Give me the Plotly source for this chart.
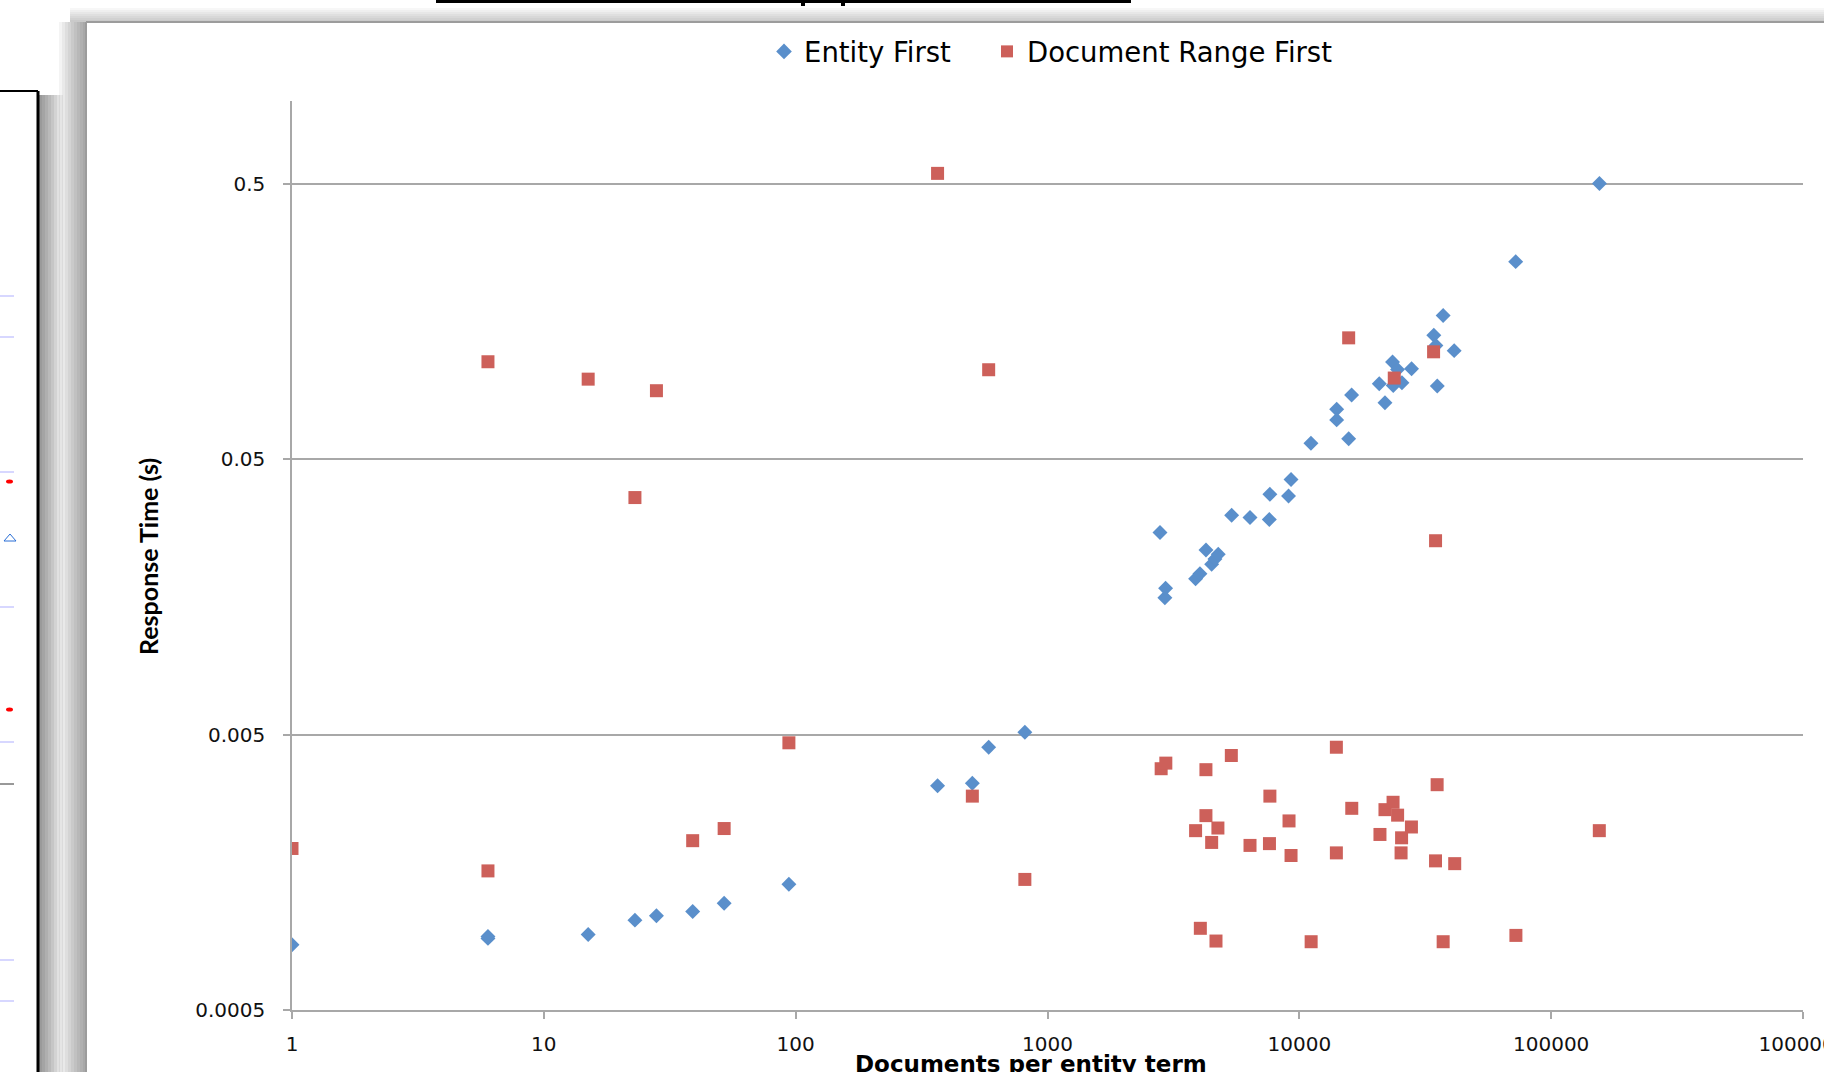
import plotly.graph_objects as go

# ---------------- data ----------------
entity_x = [1, 6, 6, 15, 23, 28, 39, 52, 94, 366, 503, 584, 813,
            2797, 2925, 2944, 3873, 4030, 4259, 4486, 4622, 4764, 5385,
            6370, 7600, 7640, 9060, 9270, 11120, 14070, 14070, 15700, 16130,
            20770, 21880, 23450, 23600, 24540, 25550, 27900, 34200, 34850,
            35300, 37250, 41200, 72300, 155500]
entity_y = [0.000863, 0.00091, 0.000925, 0.00094, 0.00106, 0.0011, 0.00114, 0.00122, 0.00143,
            0.00326, 0.00333, 0.0045, 0.0051,
            0.0271, 0.0157, 0.0170, 0.0184, 0.0192, 0.0234, 0.0208, 0.0217, 0.0226, 0.0313,
            0.0307, 0.0302, 0.0373, 0.0368, 0.0422, 0.0572, 0.0759, 0.0695, 0.0594, 0.0855,
            0.094, 0.0802, 0.1127, 0.0926, 0.106, 0.0948, 0.1066, 0.141, 0.1295,
            0.0922, 0.1664, 0.124, 0.261, 0.502]

docrange_x = [1, 6, 6, 15, 23, 28, 39, 52, 94, 366, 503, 584, 813,
              2827, 2950, 3873, 4045, 4257, 4257, 4486, 4667, 4750, 5370, 6370,
              7610, 7640, 9100, 9270, 11140, 14030, 14030, 15700, 16150, 20900,
              21880, 23560, 23820, 24560, 25350, 25470, 27870, 34130, 34740,
              34750, 35250, 37250, 41400, 72440, 155300]
docrange_y = [0.00193, 0.113, 0.0016, 0.0977, 0.0363, 0.0887, 0.00206, 0.00228, 0.00467,
              0.546, 0.00299, 0.1057, 0.00149,
              0.00376, 0.00394, 0.00224, 0.00099, 0.00373, 0.00254, 0.00203, 0.00089, 0.00229,
              0.0042, 0.00198, 0.00201, 0.00299, 0.00243, 0.00182, 0.000885, 0.0045, 0.00186,
              0.138, 0.0027, 0.00217, 0.00267, 0.00284, 0.0986, 0.00255, 0.00186, 0.00211,
              0.00231, 0.1228, 0.00174, 0.0253, 0.00329, 0.000885, 0.0017, 0.000933, 0.00224]

x_ticks = [1, 10, 100, 1000, 10000, 100000, 1000000]
x_tick_text = ["1", "10", "100", "1000", "10000", "100000", "1000000"]
y_ticks = [0.0005, 0.005, 0.05, 0.5]
y_tick_text = ["0.0005", "0.005", "0.05", "0.5"]

series_names = ["Entity First", "Document Range First"]
x_title = "Documents per entity term"
y_title = "Response Time (s)"

# ---------------- layout geometry ----------------
W_FIG, H_FIG = 1824, 1072
L, R, T, B = 292, 1803, 101, 1010
PW, PH = R - L, B - T


def px(X):
    return (X - L) / PW


def py(Y):
    return (B - Y) / PH


BLUE = "#5A8FCB"
RED = "#CD605A"
GRID = "#A8A8A8"
TICKFONT = dict(family="DejaVu Sans, Verdana, sans-serif", size=20, color="#111111")
LEGFONT = dict(family="DejaVu Sans, sans-serif", size=27.5, color="#000000")

fig = go.Figure()
fig.add_trace(go.Scatter(
    x=entity_x, y=entity_y, mode="markers", name=series_names[0], legend="legend",
    marker=dict(symbol="diamond", size=11.5, color=BLUE, line=dict(width=0)),
))
fig.add_trace(go.Scatter(
    x=docrange_x, y=docrange_y, mode="markers", name=series_names[1], legend="legend2",
    marker=dict(symbol="square", size=13, color=RED, line=dict(width=0)),
))

shapes = []


def line(x0, y0, x1, y1, color, width):
    shapes.append(dict(type="line", xref="paper", yref="paper",
                       x0=px(x0), y0=py(y0), x1=px(x1), y1=py(y1),
                       line=dict(color=color, width=width), layer="above"))


def rect(x0, y0, x1, y1, fill):
    shapes.append(dict(type="rect", xref="paper", yref="paper",
                       x0=px(x0), y0=py(y0), x1=px(x1), y1=py(y1),
                       fillcolor=fill, line=dict(width=0), layer="above"))


# shadow of the chart frame (left and top)
for k in range(3, 28, 3):
    rect(86 - k, 22, 86, H_FIG, "rgba(0,0,0,0.045)")
for k in range(2, 16, 2):
    rect(70, 22 - k, W_FIG, 22, "rgba(0,0,0,0.03)")
# shadow right of the left panel
for k in range(3, 25, 3):
    rect(39, 95, 39 + k, H_FIG, "rgba(0,0,0,0.06)")
# left panel border
line(38, 91, 38, H_FIG, "#000000", 3)
line(0, 91, 38, 91, "#000000", 2)
# chart frame border
line(86, 22, 86, H_FIG, "#9C9C9C", 2)
line(86, 22, W_FIG, 22, "#9C9C9C", 2)
# top: underline of a cut-off heading
line(436, 1.5, 1131, 1.5, "#000000", 3)
line(803, 0, 803, 6, "#000000", 4)
line(843, 0, 843, 6, "#000000", 4)
# left panel small marks
for yy in [296, 337, 472, 607, 742, 960, 1001]:
    line(0, yy, 14, yy, "#AFAFFF", 1)
line(0, 784, 14, 784, "#333333", 1)
for yy in [481.5, 709.5]:
    shapes.append(dict(type="circle", xref="paper", yref="paper",
                       x0=px(6), x1=px(13), y0=py(yy - 2), y1=py(yy + 2),
                       fillcolor="#FF0000", line=dict(width=0), layer="above"))
shapes.append(dict(type="path", xref="paper", yref="paper",
                   path="M {} {} L {} {} L {} {} Z".format(px(4), py(541), px(10), py(534), px(16), py(541)),
                   line=dict(color="#2A6FD6", width=1), layer="above"))

annotations = [
    dict(text="<b>" + x_title + "</b>", xref="paper", yref="paper",
         x=px(1031), y=py(1064), xanchor="center", yanchor="middle", showarrow=False,
         font=dict(family="DejaVu Sans, sans-serif", size=23, color="#000000")),
    dict(text="<b>" + y_title + "</b>", xref="paper", yref="paper",
         x=px(148), y=py(557), xanchor="center", yanchor="middle", showarrow=False,
         textangle=-90,
         font=dict(family="Lato, Open Sans, sans-serif", size=25, color="#000000")),
]

legend_common = dict(orientation="h", xanchor="left", yanchor="top",
                     font=LEGFONT, bgcolor="rgba(0,0,0,0)", borderwidth=0,
                     itemsizing="constant")

fig.update_layout(
    width=W_FIG, height=H_FIG,
    margin=dict(l=L, r=W_FIG - R, t=T, b=H_FIG - B, autoexpand=False),
    paper_bgcolor="#FFFFFF", plot_bgcolor="#FFFFFF",
    showlegend=True,
    legend=dict(x=px(764), y=py(27), **legend_common),
    legend2=dict(x=px(987), y=py(27), **legend_common),
    shapes=shapes,
    annotations=annotations,
    xaxis=dict(type="log", range=[0, 6], tickvals=x_ticks, ticktext=x_tick_text,
               showgrid=False, zeroline=False, showline=True, linecolor=GRID, linewidth=1.5,
               ticks="outside", ticklen=7, tickcolor=GRID, tickwidth=1.5,
               tickfont=TICKFONT, ticklabelstandoff=8, ticklabeloverflow="allow",
               automargin=False),
    yaxis=dict(type="log", range=[-3.30103, 0], tickvals=y_ticks, ticktext=y_tick_text,
               showgrid=True, gridcolor=GRID, gridwidth=1.5, zeroline=False,
               showline=True, linecolor=GRID, linewidth=1.5,
               ticks="outside", ticklen=7, tickcolor=GRID, tickwidth=1.5,
               tickfont=TICKFONT, ticklabelstandoff=14, automargin=False),
)

fig.write_html(
    "out.html",
    config={"displayModeBar": False},
    post_script="document.body.style.margin='0px';document.body.style.padding='0px';"
                "document.body.style.overflow='hidden';",
)
